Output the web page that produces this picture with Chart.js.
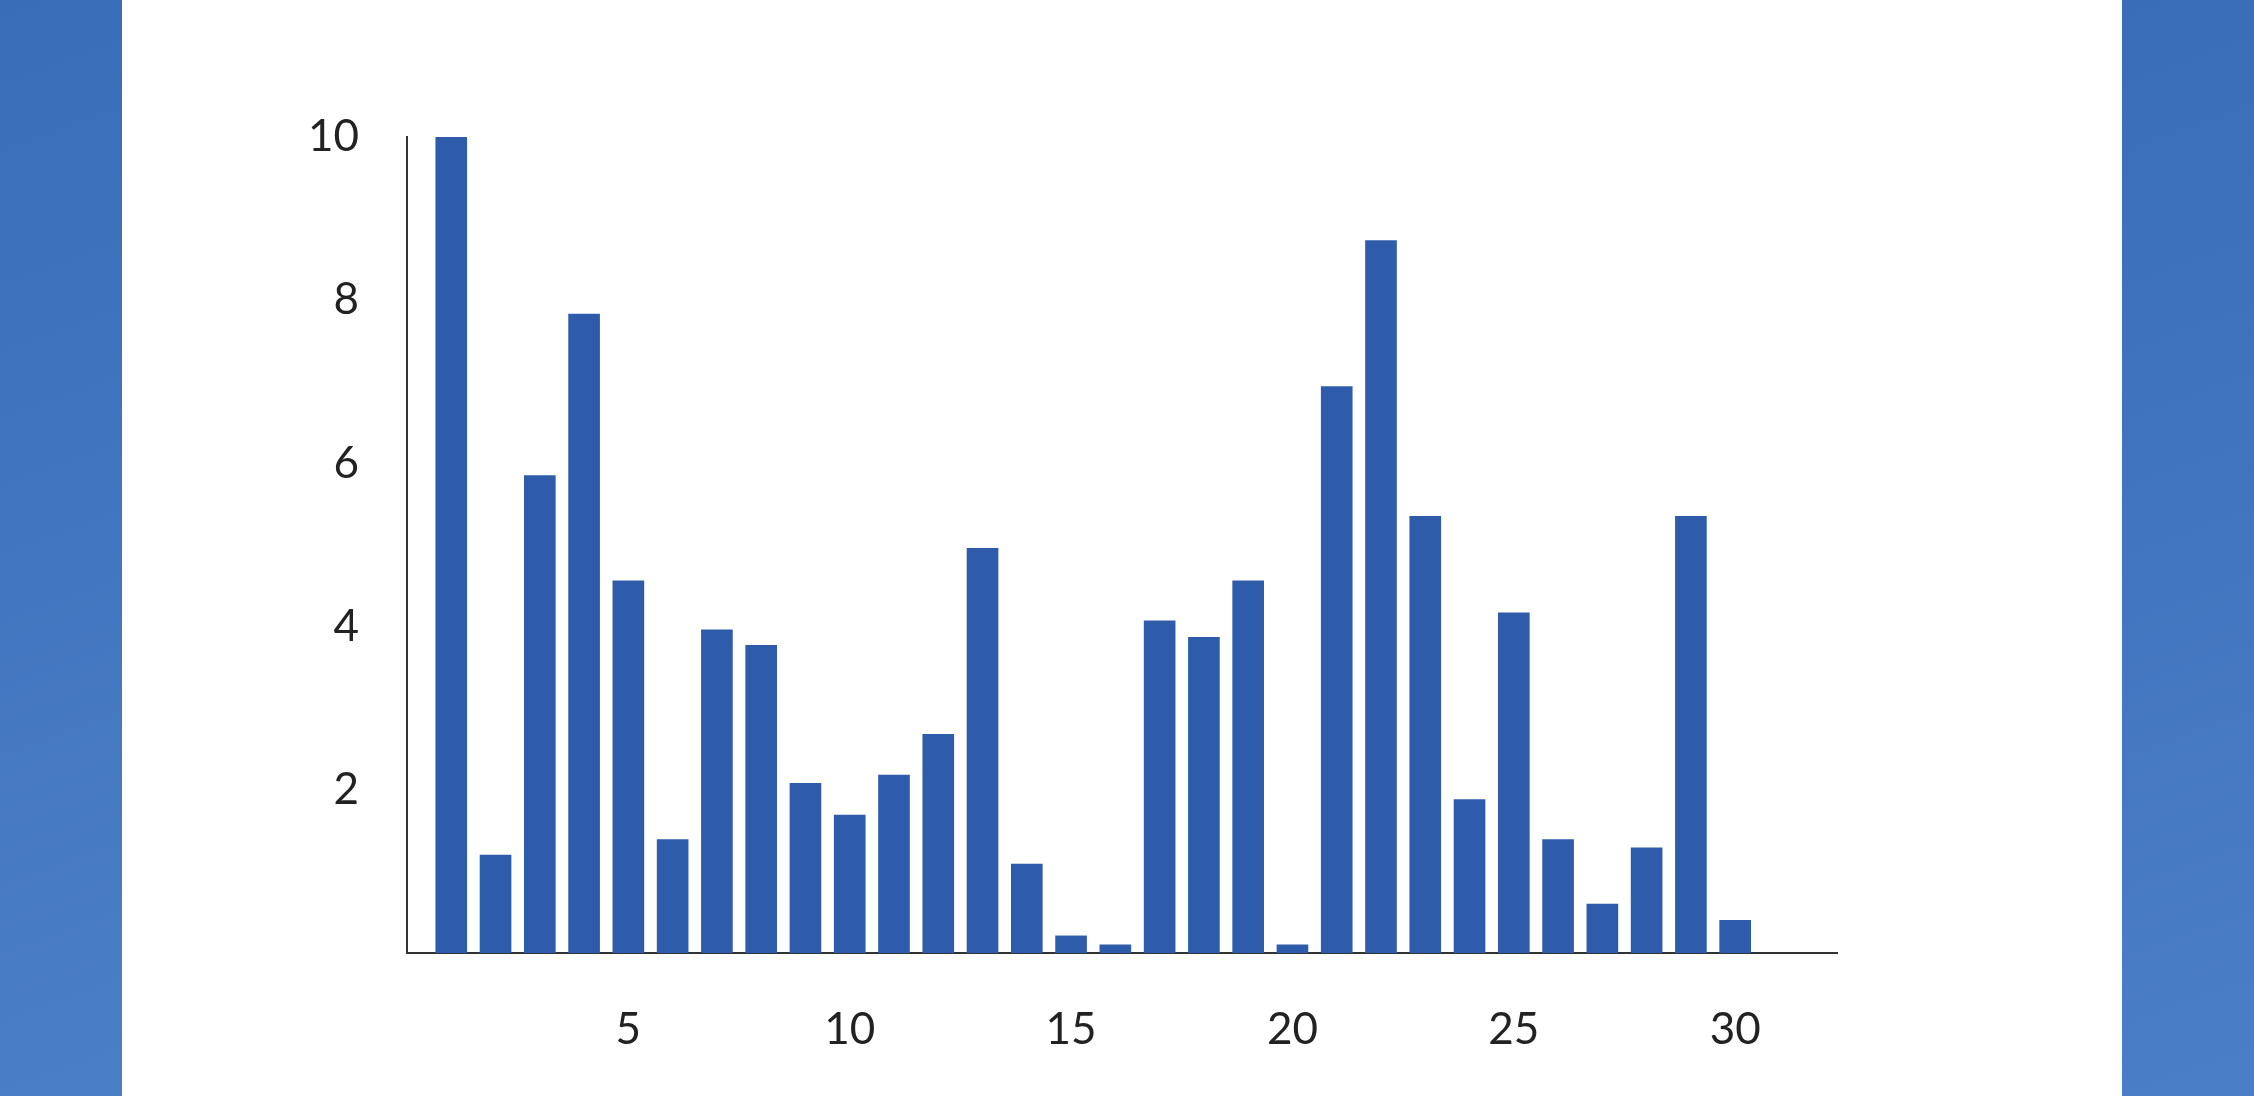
<!DOCTYPE html>
<html><head><meta charset="utf-8">
<script src="https://cdn.jsdelivr.net/npm/chart.js@4"></script>
<style>
html,body{margin:0;padding:0;background:#fff;width:2254px;height:1096px;overflow:hidden}
.side{position:absolute;top:0;height:1096px;background:linear-gradient(160deg,#3a6db8,#4a7ec6)}
#wrap{position:absolute;left:0;top:0;width:2254px;height:1096px}
</style></head><body>
<div class="side" style="left:0;width:122px"></div>
<div class="side" style="left:2122px;width:132px"></div>
<div id="wrap"><canvas id="c"></canvas></div>
<script>
const categories=[1,2,3,4,5,6,7,8,9,10,11,12,13,14,15,16,17,18,19,20,21,22,23,24,25,26,27,28,29,30];
const values=[10,1.2,5.85,7.83,4.56,1.39,3.96,3.77,2.08,1.69,2.18,2.68,4.96,1.09,0.21,0.1,4.07,3.87,4.56,0.1,6.94,8.73,5.35,1.88,4.17,1.39,0.6,1.29,5.35,0.4];
const xTicks=[5,10,15,20,25,30];
const yTicks=[2,4,6,8,10];
new Chart(document.getElementById('c'),{
type:'bar',
data:{datasets:[{data:categories.map((c,i)=>({x:c,y:values[i]})),backgroundColor:'#2f5caa',barThickness:31}]},
options:{responsive:true,maintainAspectRatio:false,animation:false,
layout:{padding:{top:137,right:2254-1837,left:0,bottom:0}},
plugins:{legend:{display:false},tooltip:{enabled:false}},
scales:{
x:{type:'linear',offset:false,min:0,max:32.3,grid:{display:false,drawTicks:false,offset:false},border:{color:'#333',width:2},
afterBuildTicks:s=>{s.ticks=xTicks.map(v=>({value:v}));},
afterFit:s=>{s.height=143;},
ticks:{color:'#222',font:{family:'Lato',size:44},padding:50}},
y:{min:0,max:10,grid:{display:false,drawTicks:false},border:{color:'#333',width:2},
afterBuildTicks:s=>{s.ticks=yTicks.map(v=>({value:v}));},
afterFit:s=>{s.width=407;},
ticks:{color:'#222',font:{family:'Lato',size:44},padding:48}}
}}});
</script></body></html>
